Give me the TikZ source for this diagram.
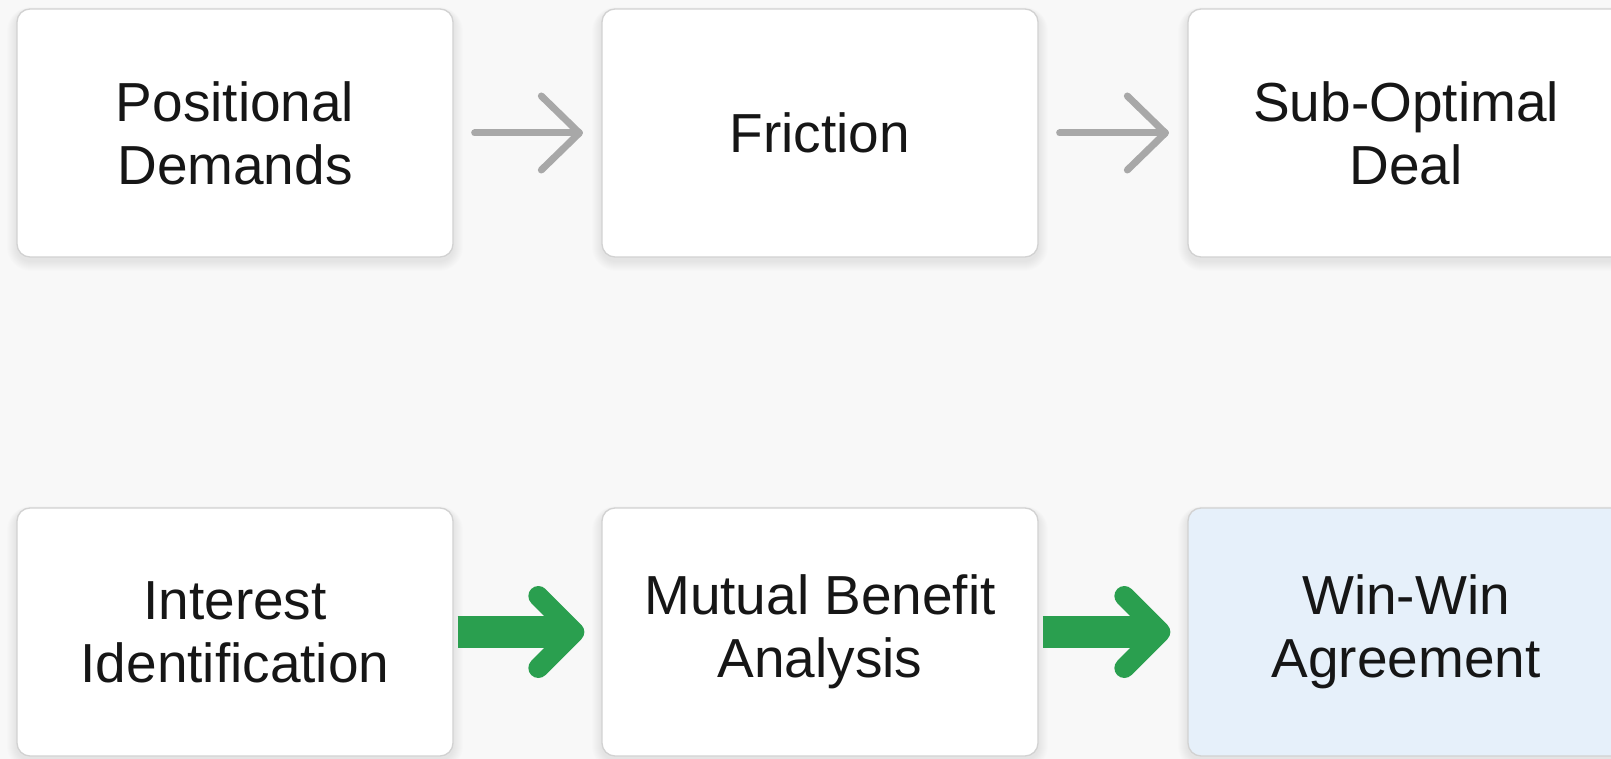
\documentclass[tikz,border=0pt]{standalone}
\usepackage{fontspec}
\setmainfont{Liberation Sans}
\usetikzlibrary{calc}

\definecolor{pagebg}{HTML}{F8F8F8}
\definecolor{boxline}{HTML}{D2D2D2}
\definecolor{arrowgray}{HTML}{A8A8A8}
\definecolor{wingreen}{HTML}{2A9F4F}
\definecolor{goalblue}{HTML}{E6F0FA}
\definecolor{ink}{HTML}{161616}

\tikzset{
  stage/.style={draw=boxline, line width=1.3pt, fill=white, rounded corners=13pt,
    minimum width=436pt, minimum height=248pt, inner sep=0pt, align=center,
    text=ink, font=\fontsize{55}{63}\selectfont},
  goal/.style={stage, fill=goalblue},
  shaftgray/.style={draw=arrowgray, line width=7pt, line cap=round},
  chevgray/.style={draw=arrowgray, line width=7pt, line cap=round, line join=round},
  shaftgreen/.style={draw=wingreen, line width=32pt},
  chevgreen/.style={draw=wingreen, line width=20pt, line cap=round, line join=round},
}

% soft shadow under a 436 x 248 card centred on the given coordinate
\newcommand\stageshadow[1]{%
  \foreach \k in {1,...,10}{%
    \fill[black, opacity=0.009, rounded corners={(14+\k)*1pt}]
      ($(#1)+(-218-\k,-122-0.4*\k)$) rectangle ($(#1)+(218+\k,128+\k)$);
  }}

\begin{document}
\begin{tikzpicture}[x=1pt, y=-1pt]
  \useasboundingbox (0,0) rectangle (1611,759);
  \clip (0,0) rectangle (1611,759);
  \fill[pagebg] (0,0) rectangle (1611,759);

  % card centres
  \coordinate (c1) at (235,133);
  \coordinate (c2) at (820,133);
  \coordinate (c3) at (1406,133);
  \coordinate (c4) at (235,632);
  \coordinate (c5) at (820,632);
  \coordinate (c6) at (1406,632);

  \foreach \c in {c1,c2,c3,c4,c5,c6} {\stageshadow{\c}}

  % positional route
  \node[stage] (pd) at (c1) {Positional\\Demands};
  \node[stage] (fr) at (c2) {Friction};
  \node[stage] (sd) at (c3) {Sub-Optimal\\Deal};

  % interest-based route
  \node[stage] (ii) at (c4) {Interest\\Identification};
  \node[stage] (mb) at (c5) {Mutual Benefit\\Analysis};
  \node[goal]  (ww) at (c6) {Win-Win\\Agreement};

  % thin gray arrows
  \draw[shaftgray] ($(pd.east)+(21,0)$) -- ($(fr.west)+(-22,0)$);
  \draw[chevgray] ($(fr.west)+(-60,-37)$) -- ($(fr.west)+(-22,0)$) -- ($(fr.west)+(-60,37)$);
  \draw[shaftgray] ($(fr.east)+(21,0)$) -- ($(sd.west)+(-22,0)$);
  \draw[chevgray] ($(sd.west)+(-60,-37)$) -- ($(sd.west)+(-22,0)$) -- ($(sd.west)+(-60,37)$);

  % bold green arrows
  \draw[shaftgreen] ($(ii.east)+(4,0)$) -- ($(mb.west)+(-38,0)$);
  \draw[chevgreen] ($(mb.west)+(-63,-36)$) -- ($(mb.west)+(-27,0)$) -- ($(mb.west)+(-63,36)$);
  \draw[shaftgreen] ($(mb.east)+(4,0)$) -- ($(ww.west)+(-38,0)$);
  \draw[chevgreen] ($(ww.west)+(-63,-36)$) -- ($(ww.west)+(-27,0)$) -- ($(ww.west)+(-63,36)$);
\end{tikzpicture}
\end{document}
